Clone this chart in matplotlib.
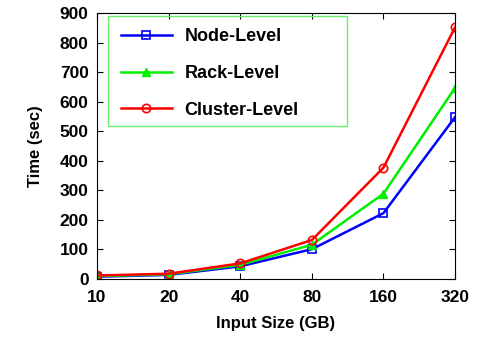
#!/usr/bin/env python3
"""Time vs input size for node/rack/cluster level."""
import matplotlib
matplotlib.use("Agg")
import matplotlib.pyplot as plt
from matplotlib.patches import Rectangle

SIZES = ["10", "20", "40", "80", "160", "320"]
NODE = [8, 14, 43, 101, 223, 548]
RACK = [10, 16, 48, 116, 289, 647]
CLUSTER = [12, 18, 53, 132, 377, 852]

plt.rcParams["font.family"] = ["Liberation Sans", "DejaVu Sans"]
plt.rcParams["font.weight"] = "bold"

fig = plt.figure(figsize=(4.78, 3.37), dpi=100)
ax = fig.add_axes([0.203, 0.172, 0.749, 0.789])

x = list(range(len(SIZES)))
ax.plot(x, NODE, color="#0000ff", marker="s", markersize=6, markerfacecolor="none",
        markeredgewidth=1.2, linewidth=1.8, label="Node-Level")
ax.plot(x, RACK, color="#00ee00", marker="^", markersize=6, linewidth=1.8, label="Rack-Level")
ax.plot(x, CLUSTER, color="#ff0000", marker="o", markersize=6, markerfacecolor="none",
        markeredgewidth=1.2, linewidth=1.8, label="Cluster-Level")

ax.set_xlim(0, len(SIZES) - 1)
ax.set_ylim(0, 900)
ax.set_xticks(x)
ax.set_xticklabels(SIZES)
ax.set_yticks(range(0, 901, 100))
ax.tick_params(direction="in", top=True, right=True, labelsize=12.5, length=4, width=0.8)
ax.tick_params(axis="x", pad=8)
ax.tick_params(axis="y", pad=6)
for lab in ax.get_xticklabels() + ax.get_yticklabels():
    lab.set_fontweight("bold")
ax.set_xlabel("Input Size (GB)", fontsize=12, fontweight="bold", labelpad=8)
ax.set_ylabel("Time (sec)", fontsize=12, fontweight="bold", labelpad=12)

leg = ax.legend(loc="upper left", bbox_to_anchor=(0.022, 1.005), fontsize=13, handlelength=2.8,
                handletextpad=0.7, labelspacing=1.1, borderpad=0.4, frameon=False)
for t in leg.get_texts():
    t.set_fontweight("bold")
ax.add_patch(Rectangle((0.031, 0.575), 0.667, 0.414, transform=ax.transAxes, fill=False,
                       edgecolor="#66ee66", linewidth=1.0, zorder=4))

fig.savefig("out.png", dpi=100)
